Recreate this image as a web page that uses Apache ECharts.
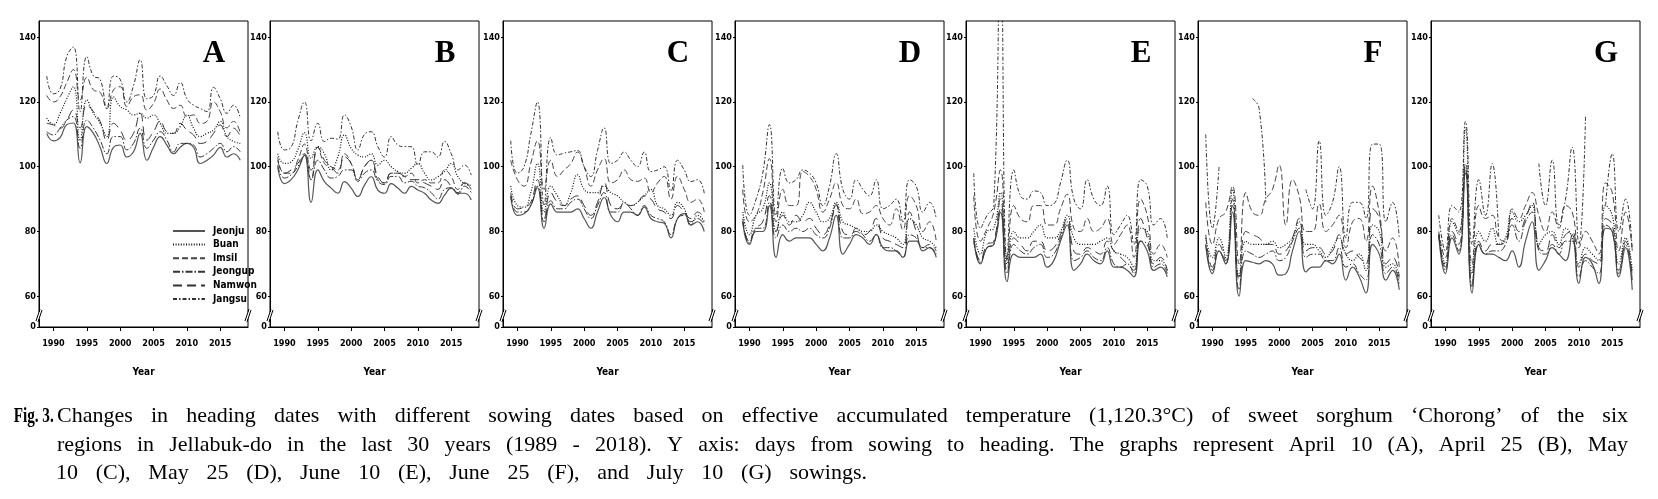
<!DOCTYPE html>
<html><head><meta charset="utf-8">
<script src="https://cdn.jsdelivr.net/npm/echarts@6/dist/echarts.min.js"></script>
<style>html,body{margin:0;padding:0;background:#fff}#c{width:1658px;height:499px}</style>
</head><body><div id="c"></div>
<script>
// ---------- data ----------
const years = [1989,1990,1991,1992,1993,1994,1995,1996,1997,1998,1999,2000,2001,2002,2003,2004,2005,2006,2007,2008,2009,2010,2011,2012,2013,2014,2015,2016,2017,2018];
const regions = ['Jeonju','Buan','Imsil','Jeongup','Namwon','Jangsu'];
const panelLetters = ['A','B','C','D','E','F','G'];
const xTickValues = [1990,1995,2000,2005,2010,2015];
const yTickValues = [60,80,100,120,140];
const yBreakLabel = '0';

// Panel A (April 10)
const A_Jeonju  = [110.3,108,109,113,113.5,101.2,112.4,110.3,106,101,106,106.7,103,104.6,110.3,102,106,109.3,106.7,104,106,107.2,106,101,102,103.6,106,103,104,102];
const A_Buan    = [115,113,116.5,121,124.7,108,120.6,116.5,113.4,109.3,121.6,118.6,117.5,116,116.5,115,116,113.4,110.3,110.3,112.4,116,111.9,109.3,110.3,111.3,114,109.3,107.8,107.2];
const A_Imsil   = [122,120,121.6,126,130,120.6,127.6,123.7,123,118,123.7,124.7,118.6,121.6,122.2,117.5,119.6,124,120.6,118,119,115.5,116,113.4,114,120,117,112,114,110.3];
const A_Jeongup = [110.8,109.8,111.9,114.4,115.5,105.7,114.4,111.9,108.2,104,109.3,109.3,105.2,107.2,111.9,105.7,108.2,110.8,108.2,104.6,107.2,107.2,106.7,103,104,105.7,107.2,104.6,106.2,104.6];
const A_Namwon  = [113.4,112.9,111.9,114.4,117.5,112,119,117,114,108.2,113.4,111.3,108.2,110.3,116.5,108.2,110.8,114,110.8,110.3,113.4,111.3,109.8,107.2,107.8,110.3,112.9,109.3,111.9,109.3];
const A_Jangsu  = [128,122.5,124,134,137,117,134,128,127,118,128,127,120,125,133,121,122,128,125,122,126,121,119,118,117,124.5,121,116.5,119,115];

// Panel B (April 25)
const B_Jeonju  = [100,94.8,96,99,103.6,89,99,95.4,93.4,91.8,95.4,93.4,90.8,94.3,96.9,92.8,91.8,94.8,93.4,91.8,93.9,92.8,91.8,89.7,88.7,91.2,93.4,91.8,91.8,89.7];
const B_Buan    = [104,101,101.5,105.2,110.5,102.6,106.2,104,99,103,109.8,105.7,103.6,103,104,100.5,102,100,98.5,98,99.5,101,98,95.9,96.9,98.5,101,96.9,94.8,94.3];
const B_Imsil   = [103,98,98,102,107,96,106,101,100,99,104,101,96,100,102,96,95,98,98,97,98,95,96,95,95,99,97,93,95,93];
const B_Jeongup = [100.5,96.5,97.5,100,103.5,96,102,99,96.5,97,99,99,95.5,98,99,95.5,94.5,97,97,95,95.5,94,93.5,92,90,93,93.5,91.5,94,92];
const B_Namwon  = [102,98,99,101,104,99,106,102,100,98,103,101,96,100,102,97,95,98,98,97,96,96,95,94,93,96,94,92,95,94];
const B_Jangsu  = [110.8,105.2,106,114,120,108,113.4,107.8,108.8,108.5,116,112.4,105.2,110,110.8,106.2,103,109.3,106.7,106.2,106.2,100.5,104.6,104.6,103,107.8,104,99,100.5,97.4];

// Panel C (May 10)
const C_Jeonju  = [91,85,85.5,88,93.5,81,88.5,86,86,86,87,84,81,86,90.5,85,83,86,86,85,87.5,84,83,82.5,78,84,85.5,82,83,80];
const C_Buan    = [94,88,87.5,92,101,86,94,91,88,92,97.5,93,92,92,94,92,91,89,88,89,91,93,88,87,85,89,87,82,85,83];
const C_Imsil   = [102,96,94,101,108,93,102,97,99,101,104.5,100,94,99,102.5,95,96,99,96,95.5,96.5,92,95,97,90,97,93,89,90,86];
const C_Jeongup = [91,86,86,88,94,83,89.5,87,87,89,90,87,84,88,92,86,86,89,87,85,88,85,84,83,79,84,85,83,84,82];
const C_Namwon  = [92,87,87.5,89,96,84,92,89,88,90,91,88,85,89,95,88,87,88.5,88,89,91,90,87,86,84,88,86,84,86,84];
const C_Jangsu  = [108,98,100,110,120,88,109,103.6,104.2,104.6,105,100,97,105,112,101,102,104.5,102,100,104.5,98.5,99,100,92.5,102,99,95.4,96,91.8];

// Panel D (May 25)
const D_Jeonju  = [83,76,80,80,88,72,79,77,78,78,78,76,74,78,85,73,76,79,78,76,79,75,74,74,72,77,77,74,75,72];
const D_Buan    = [86,79,85,87,95,80,86,83,83,85,89,86,83,84,89,83,82,81,80,80,82,80,79,78,76,84,82,78,77,75];
const D_Imsil   = [93,83,85,92,102.5,83,93,88,88,98.5,97,93,86,90,95,88,87,90,85.5,86,88,84,82,87,80.5,91,88,80,83,77];
const D_Jeongup = [83,76.5,81,81,89,78,82,80,81,80,81,79,78,81,88.5,78,78,81,79,77,79,75,75,74,72,79,78,75,75,73];
const D_Namwon  = [84,77,81,83,91,80,85,82,85,83,84,81,79,82,88,80,79,80,79,80,84,78,77,76,75,86,80,75,76,74];
const D_Jangsu  = [100.5,85,90,98,113,85,99.5,95,96,99,98,95,88,94,104,93,90,96,93,91,96,87,88,90,83,96,94,86,89,84];

// Panel E (June 10)
const E_Jeonju  = [78,70,75,76,86,64.5,73,72,72,72,73,69,71,77,82,68,70,73,71,70,74,69,69,68,66,77,74,68,69,66];
const E_Buan    = [81,73,80,81,92,70,80,78,78,80,82,78,78,80,85,78,76,76,76,77,78,74,73,72,69,81,80,71,71,68];
const E_Imsil   = [91,77,81,86,99,72,88,84,83,88,88,82,82,87,91.5,81,80,84,80,81,84,76,79,82,72,90,85,73,76,72];
const E_Jeongup = [77,70.5,75,76,87,67,76,74,73,75,76,72,73,78,83,71,72,74,72,71,75,70,69,70,67,77,76,69,70,67];
const E_Namwon  = [78,71,76,77,90,68,78,76,74,77,77,74,75,79,84,74,73,75,74,73,77,74,72,70,68,84,78,70,72,68];
const E_Jangsu  = [98,81,85,88,170,71,99,91,90,92.5,92,88,88.5,95,102,90,87,96,90,88,94,79,82,85,76,96,94,82,84,78];

// Panel F (June 25)
const F_Jeonju  = [76,67,74,70,86,60,71,70.5,70,71,70,66.5,67,74,80,67.5,69,69,71,70,73,65,69,66,61,76,73,65,68,62];
const F_Buan    = [78,72,78,72,93,66,77,76,76,76,77,75,76,78,83,76,76,74,72,75,78,73,71,73,68,82,80,69,70,65];
const F_Imsil   = [89,76,84,86,94,70,92,86,85,90,93,100.5,82,96,91,80,80,88.5,80,82,85,75,83,84,77,94,86,74,78,69];
const F_Jeongup = [76,68,74,70,90,62,74,73,72,73,74,71,72,77,81,72,73,73,71,71,75,69,70,67,65,79,76,67,69,64];
const F_Namwon  = [79,69,76,71,88,65,80,79,78,76,76,73,74,78,84,74,75,75,73,74,79,73,74,72,70,87,84,70,72,66];
const F_Jangsu  = [110,81,100,null,null,null,null,121,118,89,null,null,null,null,null,93,87,108,85,89,100,78,89,89,84,107,107,83,89,78];

// Panel G (July 10)
const G_Jeonju  = [79,67,78,73,98,61,76,73,73,72,71,74,69,77,83,68,71,75,73,71,79,64,72,70,64,81,80,66,75,62];
const G_Buan    = [79,70,83,79,112,67,80,77,81,76,78,86,83,85,88,76,79,80,76,81,78,70,75,73,71,88,85,70,78,68];
const G_Imsil   = [80,72,84,80,101,70,88,84,85,78,77,87,84,88,92,85,80,86,81,88,86,75,80,77,73,95,92,74,86,74];
const G_Jeongup = [79,68,79,74,99,63,76,73,74,74,76,82,77,83,86,74,73,76,73,77,77,66,71,69,67,82,80,67,76,65];
const G_Namwon  = [79,69,80,76,100,64,77,74,76,76,77,84,80,84,89,75,74,79,75,79,80,69,73,71,70,84,82,68,77,66];
const G_Jangsu  = [85,74,88,86,114,76,96,85,101,78,null,null,null,null,null,101,88,102,82,90,106,76,116,null,null,88,104,80,90,74];

const captionBold = 'Fig. 3.';
const captionLine1 = 'Changes in heading dates with different sowing dates based on effective accumulated temperature (1,120.3°C) of sweet sorghum ‘Chorong’ of the six';
const captionLine2 = 'regions in Jellabuk-do in the last 30 years (1989 - 2018). Y axis: days from sowing to heading. The graphs represent April 10 (A), April 25 (B), May';
const captionLine3 = '10 (C), May 25 (D), June 10 (E), June 25 (F), and July 10 (G) sowings.';

// ---------- assembly ----------
const panels = [
  [A_Jeonju,A_Buan,A_Imsil,A_Jeongup,A_Namwon,A_Jangsu],
  [B_Jeonju,B_Buan,B_Imsil,B_Jeongup,B_Namwon,B_Jangsu],
  [C_Jeonju,C_Buan,C_Imsil,C_Jeongup,C_Namwon,C_Jangsu],
  [D_Jeonju,D_Buan,D_Imsil,D_Jeongup,D_Namwon,D_Jangsu],
  [E_Jeonju,E_Buan,E_Imsil,E_Jeongup,E_Namwon,E_Jangsu],
  [F_Jeonju,F_Buan,F_Imsil,F_Jeongup,F_Namwon,F_Jangsu],
  [G_Jeonju,G_Buan,G_Imsil,G_Jeongup,G_Namwon,G_Jangsu]
];

const lineStyles = {
  Jeonju:  {type:'solid', color:'#555', width:1.2},
  Buan:    {type:[1,1.6], color:'#111', width:1.2},
  Imsil:   {type:[6,3], color:'#444', width:1},
  Jeongup: {type:[7,2,1.5,2], color:'#333', width:1},
  Namwon:  {type:[9,5], color:'#333', width:1},
  Jangsu:  {type:[4,2,1.5,2], color:'#333', width:1}
};

const AX_FONT = '"Liberation Sans Narrow","DejaVu Sans Condensed",sans-serif';
const GRID_LEFT = [39,270,503,735,966,1198,1431];
const GRID_TOP = 21, GRID_W = 209, GRID_H = 306;
const Y_MIN = 50.5, Y_MAX = 145;

const grids = [], xAxes = [], yAxes = [], series = [], graphics = [];
const yLabelVals = [Y_MIN].concat(yTickValues);

panels.forEach((panel, i) => {
  grids.push({left: GRID_LEFT[i], top: GRID_TOP, width: GRID_W, height: GRID_H,
    show: true, borderColor: '#000', borderWidth: 1, backgroundColor: 'transparent'});
  xAxes.push({
    gridIndex: i, type: 'value', min: 1987.84, max: 2019.16,
    name: 'Year', nameLocation: 'middle', nameGap: 40,
    nameTextStyle: {fontFamily: AX_FONT, fontWeight: 'bold', fontSize: 10, color: '#000'},
    axisLine: {show: true, onZero: false, lineStyle: {color: '#000', width: 1}},
    axisTick: {show: true, inside: false, length: 4, customValues: xTickValues, lineStyle: {color: '#000'}},
    axisLabel: {customValues: xTickValues, margin: 12, fontFamily: AX_FONT, fontWeight: 'bold', fontSize: 9, color: '#000',
      formatter: v => String(v)},
    splitLine: {show: false}
  });
  yAxes.push({
    gridIndex: i, type: 'value', min: Y_MIN, max: Y_MAX,
    axisLine: {show: true, onZero: false, lineStyle: {color: '#000', width: 1}},
    axisTick: {show: true, inside: false, length: 2, customValues: yLabelVals, lineStyle: {color: '#000'}},
    axisLabel: {customValues: yLabelVals, margin: 3, fontFamily: AX_FONT, fontWeight: 'bold', fontSize: 9, color: '#000',
      formatter: v => (v === Y_MIN ? yBreakLabel : String(v))},
    splitLine: {show: false}
  });
  panel.forEach((arr, j) => {
    const name = regions[j];
    series.push({
      type: 'line', name: name, xAxisIndex: i, yAxisIndex: i,
      data: years.map((y, k) => [y, arr[k] === null ? '-' : arr[k]]),
      smooth: 0.5, symbol: 'none', showSymbol: false, clip: true, connectNulls: false,
      lineStyle: Object.assign({}, lineStyles[name]),
      itemStyle: {color: lineStyles[name].color},
      emphasis: {disabled: true}, silent: true, animation: false, z: 2
    });
  });
  const right = GRID_LEFT[i] + GRID_W;
  graphics.push({type: 'text', x: right - 34, y: 54, z: 10,
    style: {text: panelLetters[i], font: 'bold 31px "Liberation Serif"', fill: '#000', align: 'center', verticalAlign: 'middle'}});
  [GRID_LEFT[i], right].forEach(bx => {
    graphics.push({type: 'rect', shape: {x: bx - 2, y: 312, width: 4, height: 7}, style: {fill: '#fff'}, z: 9});
    graphics.push({type: 'line', shape: {x1: bx - 3, y1: 321, x2: bx + 1, y2: 309}, style: {stroke: '#000', lineWidth: 1}, z: 10});
    graphics.push({type: 'line', shape: {x1: bx - 1, y1: 322, x2: bx + 3, y2: 310}, style: {stroke: '#000', lineWidth: 1}, z: 10});
  });
});

// caption (justified word by word)
const CAP_FONT_SIZE = 22, CAP_SCALE = 1.0;
const mctx = document.createElement('canvas').getContext('2d');
function measure(t, bold) {
  mctx.font = (bold ? 'bold ' : '') + CAP_FONT_SIZE + 'px "Liberation Serif"';
  return mctx.measureText(t).width;
}
function justify(text, x0, x1, yc) {
  const words = text.split(' ');
  const widths = words.map(w => measure(w, false) * CAP_SCALE);
  const total = widths.reduce((a, b) => a + b, 0);
  const gap = (x1 - x0 - total) / (words.length - 1);
  let x = x0;
  words.forEach((w, k) => {
    graphics.push({type: 'text', x: x, y: yc, scaleX: CAP_SCALE, z: 10,
      style: {text: w, font: CAP_FONT_SIZE + 'px "Liberation Serif"', fill: '#000', align: 'left', verticalAlign: 'middle'}});
    x += widths[k] + gap;
  });
}
graphics.push({type: 'text', x: 13.7, y: 416.6, scaleX: 40 / measure(captionBold, true), z: 10,
  style: {text: captionBold, font: 'bold ' + CAP_FONT_SIZE + 'px "Liberation Serif"', fill: '#000', align: 'left', verticalAlign: 'middle'}});
justify(captionLine1, 57, 1628, 416.6);
justify(captionLine2, 57, 1628, 445);
justify(captionLine3, 56, 867, 473.7);

const chart = echarts.init(document.getElementById('c'), null, {renderer: 'canvas'});
chart.setOption({
  backgroundColor: '#fff',
  animation: false,
  legend: {
    data: regions, orient: 'vertical', left: 172, top: 226, padding: 0,
    itemWidth: 32, itemHeight: 10, itemGap: 3.6, selectedMode: false,
    itemStyle: {opacity: 0},
    textStyle: {fontFamily: AX_FONT, fontWeight: 'bold', fontSize: 10, color: '#000', padding: [0, 0, 0, 3]}
  },
  grid: grids, xAxis: xAxes, yAxis: yAxes, series: series,
  graphic: graphics
});
</script></body></html>
